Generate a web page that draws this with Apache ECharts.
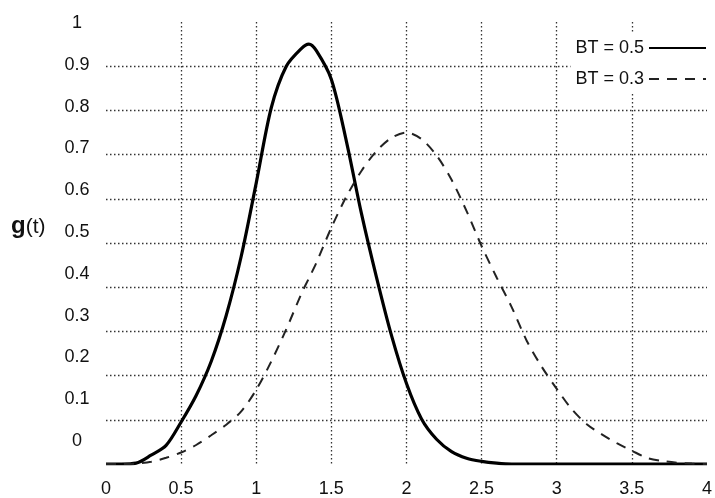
<!DOCTYPE html>
<html>
<head>
<meta charset="utf-8">
<script src="https://cdn.jsdelivr.net/npm/echarts@6/dist/echarts.min.js"></script>
<style>html,body{margin:0;padding:0;background:#fff}#c{width:715px;height:498px}</style>
</head>
<body>
<div id="c"></div>
<script>
var tValues = [0,0.1,0.2,0.3,0.4,0.5,0.6,0.7,0.8,0.9,1.0,1.1,1.2,1.3,1.35,1.4,1.5,1.6,1.7,1.8,1.9,2.0,2.1,2.2,2.3,2.4,2.5,2.6,2.7,2.8,2.9,3.0,3.1,3.2,3.3,3.4,3.5,3.6,3.7,3.8,3.9,4.0];
var bt05Values = [0,0,0.002,0.02,0.042,0.095,0.155,0.232,0.336,0.47,0.636,0.806,0.9,0.94,0.95,0.935,0.87,0.73,0.567,0.423,0.291,0.182,0.102,0.056,0.028,0.013,0.006,0.002,0,0,0,0,0,0,0,0,0,0,0,0,0,0];
var bt03Values = [0,0,0.001,0.005,0.014,0.026,0.043,0.065,0.089,0.119,0.168,0.232,0.305,0.385,0.42,0.455,0.535,0.605,0.663,0.708,0.738,0.75,0.735,0.698,0.643,0.572,0.493,0.422,0.355,0.279,0.22,0.17,0.124,0.09,0.067,0.047,0.03,0.014,0.007,0.003,0.001,0];
var seriesNames = ['BT = 0.5', 'BT = 0.3'];
var yTickLabels = ['0','0.1','0.2','0.3','0.4','0.5','0.6','0.7','0.8','0.9','1'];

function pairs(vals){ return tValues.map(function(t,i){ return [t, vals[i]]; }); }

var FONT = "'Liberation Sans', Arial, sans-serif";
var chart = echarts.init(document.getElementById('c'), null, {renderer:'canvas'});
var dotted = {color:'#333', width:1.3, type:[1.5,2.5]};
chart.setOption({
  animation:false,
  backgroundColor:'#fff',
  title:{
    text:'{g|g}{t|(t)}', left:11, top:214, padding:0,
    textStyle:{rich:{
      g:{fontFamily:FONT, fontSize:24, fontWeight:'bold', color:'#111', verticalAlign:'bottom'},
      t:{fontFamily:FONT, fontSize:21, fontWeight:'normal', color:'#111', verticalAlign:'bottom'}
    }}
  },
  legend:{
    orient:'vertical', right:3, top:33, align:'right',
    backgroundColor:'#fff', padding:5,
    itemWidth:57, itemHeight:14, itemGap:11,
    itemStyle:{opacity:0},
    textStyle:{fontFamily:FONT, fontSize:18, color:'#111', lineHeight:20},
    data:seriesNames
  },
  grid:[
    {left:106, top:22, width:609, height:444, containLabel:false},
    {left:106, top:23, width:10, height:418, containLabel:false}
  ],
  xAxis:[
    {type:'value', gridIndex:0, min:0, max:4, interval:0.5,
     axisLine:{show:false}, axisTick:{show:false},
     axisLabel:{fontFamily:FONT, fontSize:18, color:'#111', margin:16, showMaxLabel:true},
     splitLine:{show:true, showMinLine:false, showMaxLine:false, lineStyle:dotted}},
    {type:'value', gridIndex:1, min:0, max:1, show:false}
  ],
  yAxis:[
    {type:'value', gridIndex:0, min:0, max:1, interval:0.1,
     axisLine:{show:false}, axisTick:{show:false}, axisLabel:{show:false},
     splitLine:{show:true, showMinLine:false, showMaxLine:false, lineStyle:dotted}},
    {type:'value', gridIndex:1, min:0, max:1, interval:0.1,
     axisLine:{show:false}, axisTick:{show:false}, splitLine:{show:false},
     axisLabel:{fontFamily:FONT, fontSize:18, color:'#111', margin:29, align:'center',
       formatter:function(v){ return yTickLabels[Math.round(v*10)]; }}}
  ],
  series:[
    {name:seriesNames[0], type:'line', xAxisIndex:0, yAxisIndex:0, data:pairs(bt05Values),
     symbol:'none', smooth:0.3, lineStyle:{color:'#000', width:3.2}, itemStyle:{color:'#000'}},
    {name:seriesNames[1], type:'line', xAxisIndex:0, yAxisIndex:0, data:pairs(bt03Values),
     symbol:'none', smooth:0.3, lineStyle:{color:'#222', width:2, type:[10,8]}, itemStyle:{color:'#222'}}
  ]
});
</script>
</body>
</html>
